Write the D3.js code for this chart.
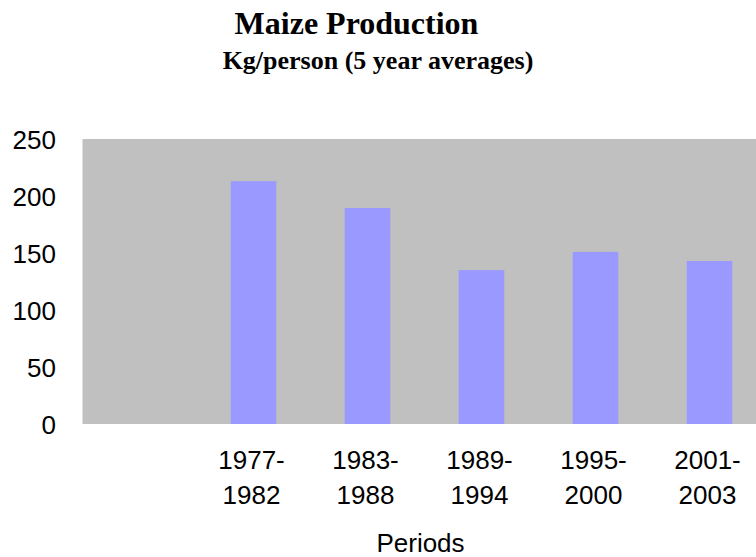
<!DOCTYPE html>
<html>
<head>
<meta charset="utf-8">
<script src="https://cdn.jsdelivr.net/npm/d3@7"></script>
<style>
  html, body { margin: 0; padding: 0; background: #ffffff; }
  svg { display: block; }
</style>
</head>
<body>
<svg id="chart" width="756" height="557"></svg>
<script>
// ---- data ----
const categories = ["", "1977-1982", "1983-1988", "1989-1994", "1995-2000", "2001-2003"];
const periods = ["1977-1982", "1983-1988", "1989-1994", "1995-2000", "2001-2003"];
const values = [213, 189.5, 135, 151, 143];
const yTicks = [0, 50, 100, 150, 200, 250];
const titleText = "Maize Production";
const subtitleText = "Kg/person (5 year averages)";
const xAxisTitle = "Periods";

// ---- layout ----
const W = 756, H = 557;
const plotLeft = 82.5, plotTop = 139, plotBottom = 424;
const step = 114;
const plotRight = plotLeft + step * categories.length;

const svg = d3.select("#chart");

const x = d3.scaleBand().domain(categories).range([plotLeft, plotRight]).paddingInner(0).paddingOuter(0);
const y = d3.scaleLinear().domain([0, 250]).range([plotBottom, plotTop]);

// plot background
svg.append("rect")
  .attr("x", plotLeft).attr("y", plotTop)
  .attr("width", plotRight - plotLeft).attr("height", plotBottom - plotTop)
  .attr("fill", "#C0C0C0");

// bars
const barFrac = 0.4;
svg.append("g").selectAll("rect")
  .data(periods.map((p, i) => ({ p, v: values[i] })))
  .join("rect")
  .attr("x", d => x(d.p) + x.bandwidth() * (1 - barFrac) / 2)
  .attr("width", x.bandwidth() * barFrac)
  .attr("y", d => y(d.v))
  .attr("height", d => y(0) - y(d.v))
  .attr("fill", "#9999FF");

// y axis labels
const yAxis = d3.axisLeft(y).tickValues(yTicks).tickSize(0).tickPadding(0).tickFormat(d3.format("d"));
const gy = svg.append("g").attr("transform", "translate(56,0)").call(yAxis);
gy.select(".domain").remove();
gy.selectAll("text")
  .attr("font-family", "'Liberation Sans', Arial, sans-serif")
  .attr("font-size", 26)
  .attr("fill", "#000")
  .attr("dy", "0.36em");

// x axis labels (two lines)
const xAxis = d3.axisBottom(x).tickValues(periods).tickSize(0).tickFormat("");
const gx = svg.append("g").attr("transform", `translate(0,${plotBottom})`).call(xAxis);
gx.select(".domain").remove();
gx.selectAll(".tick").each(function(d) {
  const parts = d.split("-");
  const t = d3.select(this).append("text")
    .attr("font-family", "'Liberation Sans', Arial, sans-serif")
    .attr("font-size", 26)
    .attr("fill", "#000")
    .attr("text-anchor", "middle")
    .attr("x", -2);
  t.append("tspan").attr("x", -2).attr("y", 45).text(parts[0] + "-");
  t.append("tspan").attr("x", -2).attr("y", 80).text(parts[1]);
});

// x axis title
svg.append("text")
  .attr("x", (plotLeft + plotRight) / 2 - 4)
  .attr("y", 552)
  .attr("text-anchor", "middle")
  .attr("font-family", "'Liberation Sans', Arial, sans-serif")
  .attr("font-size", 26)
  .attr("fill", "#000")
  .text(xAxisTitle);

// titles
svg.append("text")
  .attr("x", 356.5).attr("y", 34)
  .attr("text-anchor", "middle")
  .attr("font-family", "'Liberation Serif', 'Times New Roman', serif")
  .attr("font-weight", "bold")
  .attr("font-size", 32)
  .attr("fill", "#000")
  .text(titleText);

svg.append("text")
  .attr("x", 378).attr("y", 69)
  .attr("text-anchor", "middle")
  .attr("font-family", "'Liberation Serif', 'Times New Roman', serif")
  .attr("font-weight", "bold")
  .attr("font-size", 26)
  .attr("fill", "#000")
  .text(subtitleText);
</script>
</body>
</html>
